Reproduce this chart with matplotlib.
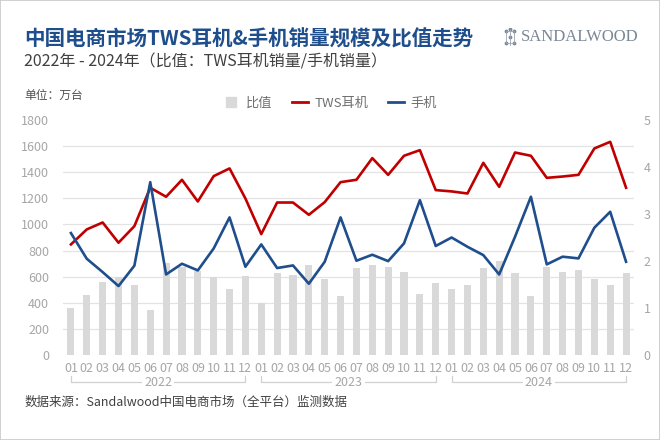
import numpy as np
import matplotlib.pyplot as plt
from matplotlib.patches import Rectangle
from matplotlib.lines import Line2D
import matplotlib.transforms as mtransforms

plt.rcParams['font.family'] = ['Noto Sans CJK SC', 'DejaVu Sans']

# data, 2022-01 .. 2024-12
years = ['2022', '2023', '2024']
month_labels = ['01', '02', '03', '04', '05', '06', '07', '08', '09', '10', '11', '12']

tws = [847, 962, 1015, 860, 987, 1281, 1212, 1342, 1176, 1370, 1429, 1199,
       926, 1168, 1168, 1074, 1171, 1324, 1342, 1508, 1380, 1526, 1569, 1263,
       1253, 1237, 1472, 1288, 1551, 1526, 1357, 1367, 1380, 1582, 1633, 1281]
phone = [934, 737, 635, 528, 684, 1324, 617, 699, 648, 816, 1054, 676,
         847, 666, 686, 546, 714, 1054, 722, 768, 719, 855, 1186, 835,
         900, 829, 765, 617, 906, 1212, 694, 753, 740, 975, 1097, 714]
ratio = [1.01, 1.28, 1.55, 1.66, 1.50, 0.96, 1.96, 1.88, 1.79, 1.66, 1.40, 1.69,
         1.10, 1.74, 1.70, 1.91, 1.62, 1.26, 1.85, 1.91, 1.88, 1.76, 1.30, 1.54,
         1.41, 1.50, 1.85, 2.01, 1.74, 1.26, 1.87, 1.76, 1.81, 1.62, 1.50, 1.74]

red = '#C00000'
blue = '#1F4E8C'
bar_grey = '#D9D9D9'
tick_grey = '#A6A6A6'

x = np.arange(len(tws))
xlabels = month_labels * len(years)

fig = plt.figure(figsize=(6.6, 4.4), dpi=100)
fig.patches.append(Rectangle((0, 0), 1, 1, transform=fig.transFigure,
                             fill=False, edgecolor='#C8C8C8', linewidth=1.2))

ax_bar = fig.add_axes([63 / 660, 1 - 355 / 440, 571 / 660, 235 / 440])
ax = ax_bar.twinx()

# bars on the right-hand axis
ax_bar.bar(x, ratio, width=0.45, color=bar_grey, zorder=2)
ax_bar.set_ylim(0, 5)
ax_bar.set_yticks(range(6))
ax_bar.yaxis.tick_right()
ax_bar.set_yticks(np.linspace(0, 5, 10), minor=True)
ax_bar.yaxis.grid(True, which='minor', color='#E3E3E3', linewidth=0.9)
ax_bar.set_axisbelow(True)
ax_bar.tick_params(axis='y', which='both', length=0, labelsize=9,
                   labelcolor=tick_grey, pad=7)
ax_bar.set_xticks(x)
ax_bar.set_xticklabels(xlabels)
ax_bar.tick_params(axis='x', length=0, labelsize=9, labelcolor=tick_grey, pad=5)
ax_bar.set_xlim(-0.5, len(x) - 0.5)

# lines on the left-hand axis
ax.plot(x, tws, color=red, linewidth=1.9, zorder=3)
ax.plot(x, phone, color=blue, linewidth=1.9, zorder=3)
ax.set_ylim(0, 1800)
ax.set_yticks(range(0, 1801, 200))
ax.yaxis.tick_left()
ax.tick_params(axis='y', length=0, labelsize=9, labelcolor=tick_grey, pad=10)

for a in (ax, ax_bar):
    for s in a.spines.values():
        s.set_visible(False)

# year brackets under the month labels
trans = mtransforms.blended_transform_factory(ax_bar.transData, ax_bar.transAxes)
for i, yr in enumerate(years):
    x0 = i * 12
    x1 = i * 12 + 11
    ax_bar.plot([x0, x0, x1, x1], [-0.089, -0.113, -0.113, -0.089], color='#D0D0D0',
                linewidth=0.9, transform=trans, clip_on=False)
    ax_bar.text((x0 + x1) / 2, -0.118, yr, transform=trans, ha='center', va='center',
                fontsize=9, color=tick_grey,
                bbox=dict(facecolor='white', edgecolor='none', pad=1.5))

# titles and notes
fig.text(24 / 660, 1 - 39 / 440, '中国电商市场TWS耳机&手机销量规模及比值走势',
         fontsize=14.8, fontweight='bold', color=blue, va='center')
fig.text(24 / 660, 1 - 62 / 440, '2022年 - 2024年（比值：TWS耳机销量/手机销量）',
         fontsize=11.5, color='#404040', va='center')
fig.text(24 / 660, 1 - 95 / 440, '单位：万台', fontsize=8.5, color='#505050', va='center')
fig.text(25 / 660, 1 - 402 / 440, '数据来源：Sandalwood中国电商市场（全平台）监测数据',
         fontsize=9, color='#404040', va='center')

# logo
fig.text(521 / 660, 1 - 37 / 440, 'SANDALWOOD', family='Liberation Serif',
         fontsize=12, color='#7A8796', va='center')
logo = fig.add_axes([504 / 660, 1 - 46 / 440, 14 / 660, 18 / 440])
logo.plot([0, 1, 1, 0, 0], [0, 0, 1, 1, 0], color='#9AA5B1', linewidth=0.6)
logo.plot([0.5, 0.5], [-0.2, 1.2], color='#9AA5B1', linewidth=0.6)
logo.scatter([0, 1, 0, 1, 0.5, 0.5], [0, 0, 1, 1, 0.5, 1.2], s=3, color='#7A8796')
logo.set_xlim(-0.3, 1.5)
logo.set_ylim(-0.3, 1.3)
logo.axis('off')

handles = [Line2D([], [], marker='s', linestyle='none', markersize=7,
                  color=bar_grey, label='比值'),
           Line2D([], [], color=red, linewidth=2, label='TWS耳机'),
           Line2D([], [], color=blue, linewidth=2, label='手机')]
fig.legend(handles=handles, loc='center', bbox_to_anchor=(330 / 660, 1 - 103 / 440),
           ncol=3, frameon=False, fontsize=9.5, labelcolor='#707070',
           handlelength=1.2, columnspacing=1.5, handletextpad=0.5)

fig.savefig('out.png', dpi=100)
